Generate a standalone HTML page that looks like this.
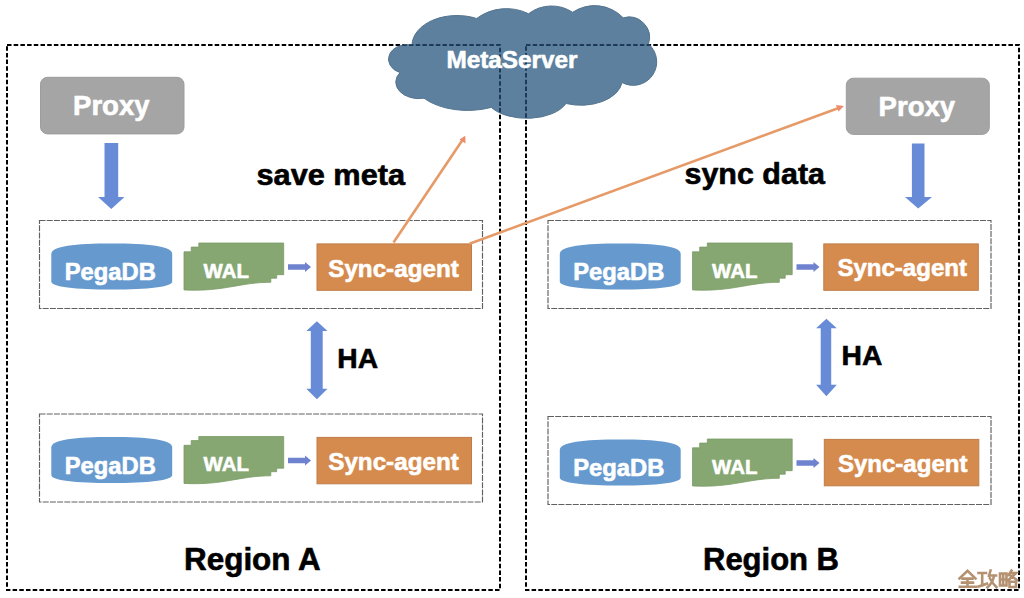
<!DOCTYPE html>
<html><head><meta charset="utf-8">
<style>
html,body{margin:0;padding:0;background:#fff;}
body{width:1024px;height:598px;overflow:hidden;}
svg{display:block;}
text{font-family:"Liberation Sans",sans-serif;font-weight:bold;stroke-width:0.6;stroke-linejoin:round;}
text[fill="#fff"]{stroke:#fff;}
text[fill="#000"]{stroke:#000;}
</style></head>
<body>
<svg width="1024" height="598" viewBox="0 0 1024 598">
<defs>
  <g id="row">
    <rect x="0.5" y="0.5" width="443" height="88" fill="none" stroke="#606060" stroke-width="1.15" stroke-dasharray="6 1.2"/>
    <!-- PegaDB can -->
    <path d="M12.3,34 C12.3,26 36,23.5 72.75,23.5 C109.5,23.5 133.2,26 133.2,34 L133.2,61.5 C133.2,67 109.5,69.6 72.75,69.6 C36,69.6 12.3,67 12.3,61.5 Z" fill="#669acf"/>
    <text x="71.3" y="60" font-size="23.3" fill="#fff" text-anchor="middle" textLength="91" lengthAdjust="spacingAndGlyphs">PegaDB</text>
    <!-- WAL multidoc -->
    <path d="M145,31.8 L152.2,31.8 L152.2,27.1 L159.8,27.1 L159.8,23 L244.7,23 L244.7,54.7 L237.7,54.7 L237.7,58.2 L231.8,58.2 L231.8,62.3 C200,62.3 185,72 145,69.9 Z" fill="#86a772" stroke="#7a9a64" stroke-width="0.8"/>
    <text x="187.2" y="57.6" font-size="20.2" fill="#fff" text-anchor="middle" textLength="45.3" lengthAdjust="spacingAndGlyphs">WAL</text>
    <!-- small arrow -->
    <path d="M249,44.3 L266,44.3 L266,42 L272,47 L266,52 L266,49.7 L249,49.7 Z" fill="#6f82d0"/>
  </g>
  <path id="cloudshape" d="M412,45.0 A45.0,30.0 0 0 1 476.6,18.5 A50.3,50.3 0 0 1 528.5,13.7 A38.3,38.3 0 0 1 572.6,12.3 A39.6,39.6 0 0 1 623.2,17.8 A20.6,20.6 0 0 1 648.5,44 A23.5,23.5 0 0 1 622,82.5 A41.4,25.9 0 0 1 566,103.5 A42.0,23.3 0 0 1 491.3,107.4 A54.2,30.1 0 0 1 424,98.2 A23.1,16.5 0 0 1 400,72.6 A19.0,14.6 0 0 1 412,45.0Z"/>
  <g id="sync">
    <rect x="278" y="23.9" width="154.5" height="46.4" fill="#d68b4e" stroke="#c07c48" stroke-width="1"/>
    <text x="354.5" y="56.9" font-size="24.3" fill="#fff" text-anchor="middle" textLength="130.5" lengthAdjust="spacingAndGlyphs">Sync-agent</text>
  </g>
  <g id="syncB">
    <rect x="278" y="23.9" width="154.5" height="46.4" fill="#d68b4e" stroke="#c07c48" stroke-width="1"/>
    <text x="356.4" y="56.4" font-size="24.3" fill="#fff" text-anchor="middle" textLength="129.5" lengthAdjust="spacingAndGlyphs">Sync-agent</text>
  </g>
  <clipPath id="cloudclip"><path d="M412,45.0 A45.0,30.0 0 0 1 476.6,18.5 A50.3,50.3 0 0 1 528.5,13.7 A38.3,38.3 0 0 1 572.6,12.3 A39.6,39.6 0 0 1 623.2,17.8 A20.6,20.6 0 0 1 648.5,44 A23.5,23.5 0 0 1 622,82.5 A41.4,25.9 0 0 1 566,103.5 A42.0,23.3 0 0 1 491.3,107.4 A54.2,30.1 0 0 1 424,98.2 A23.1,16.5 0 0 1 400,72.6 A19.0,14.6 0 0 1 412,45.0Z"/></clipPath>
</defs>

<!-- outer dashed boxes -->
<g fill="none" stroke="#000" stroke-width="2" stroke-dasharray="4.5 2.2">
  <rect x="7" y="45" width="493" height="545"/>
  <rect x="526" y="45" width="493" height="545"/>
</g>

<!-- cloud -->
<use href="#cloudshape" fill="#5c809d" stroke="#54748f" stroke-width="1"/>
<g clip-path="url(#cloudclip)" fill="none" stroke="#1e3a5a" stroke-width="2" stroke-dasharray="4.5 2.2">
  <rect x="7" y="45" width="493" height="545"/>
  <rect x="526" y="45" width="493" height="545"/>
</g>
<text x="512" y="67.5" font-size="24" fill="#fff" text-anchor="middle" textLength="131.2" lengthAdjust="spacingAndGlyphs">MetaServer</text>

<!-- Proxies -->
<rect x="40.5" y="77.3" width="143.5" height="56.6" rx="7" fill="#a5a5a5" stroke="#9d9d9d" stroke-width="1"/>
<text x="111.3" y="115.4" font-size="28" fill="#fff" text-anchor="middle" textLength="76.6" lengthAdjust="spacingAndGlyphs">Proxy</text>
<rect x="846.3" y="78.2" width="143" height="56.2" rx="7" fill="#a5a5a5" stroke="#9d9d9d" stroke-width="1"/>
<text x="916.9" y="115.8" font-size="28" fill="#fff" text-anchor="middle" textLength="76.6" lengthAdjust="spacingAndGlyphs">Proxy</text>

<!-- down arrows -->
<path d="M104.5,143 L118.2,143 L118.2,197 L124.5,197 L111.3,209 L98.1,197 L104.5,197 Z" fill="#678bd6"/>
<path d="M911.9,143.5 L924.5,143.5 L924.5,197 L932,197 L918.2,208.5 L905,197 L911.9,197 Z" fill="#678bd6"/>

<!-- labels -->
<text x="256.5" y="185.2" font-size="29" fill="#000" textLength="148.6" lengthAdjust="spacingAndGlyphs">save meta</text>
<text x="684.5" y="184" font-size="29" fill="#000" textLength="140.5" lengthAdjust="spacingAndGlyphs">sync data</text>

<!-- rows -->
<use href="#row" x="39" y="220"/>
<use href="#row" x="39" y="413.5"/>
<use href="#row" x="547.5" y="220"/>
<use href="#row" x="547.5" y="416"/>
<use href="#sync" x="39" y="220"/>
<use href="#sync" x="39" y="413.5"/>
<use href="#syncB" x="545.8" y="220"/>
<use href="#syncB" x="546.3" y="415.5"/>

<!-- HA arrows -->
<path d="M316.9,321.3 L327.5,331 L322.7,331 L322.7,388.7 L327.5,388.7 L316.9,399.2 L306.3,388.7 L310.8,388.7 L310.8,331 L306.3,331 Z" fill="#678bd6"/>
<text x="337.3" y="368" font-size="27" fill="#000" textLength="40.8" lengthAdjust="spacingAndGlyphs">HA</text>
<path d="M826.4,318.7 L836.8,328.3 L831.2,328.3 L831.2,384.8 L836.8,384.8 L826.4,396.2 L816.1,384.8 L820.7,384.8 L820.7,328.3 L816.1,328.3 Z" fill="#678bd6"/>
<text x="841.5" y="364.6" font-size="27" fill="#000" textLength="40.8" lengthAdjust="spacingAndGlyphs">HA</text>

<!-- orange lines -->
<g stroke="#e69a68" stroke-width="2.6" fill="none">
  <line x1="393.5" y1="242.5" x2="463.5" y2="138.5"/>
  <line x1="469.5" y1="243.7" x2="840" y2="107.5"/>
</g>
<path d="M465.3,135.8 L459.5,139.5 L465.5,143.5 Z" fill="#ec8c6c"/>
<path d="M844,106 L836,105 L838.5,111.5 Z" fill="#ec8c6c"/>

<!-- region labels -->
<text x="184" y="570.3" font-size="31" fill="#000" textLength="136.8" lengthAdjust="spacingAndGlyphs">Region A</text>
<text x="703" y="569.7" font-size="31" fill="#000" textLength="136" lengthAdjust="spacingAndGlyphs">Region B</text>

<!-- watermark -->
<g fill="none" stroke="#b49271" stroke-width="2.6" stroke-linecap="square">
  <!-- 全 -->
  <path d="M959.5,578.5 L967.5,570.8 L975.5,578.5"/>
  <path d="M962.5,578.6 H972.5 M962,582.6 H973 M959.8,586.8 H975.8 M967.5,578.6 V586.8"/>
  <!-- 攻 -->
  <path d="M978.5,573 H986 M982.2,573 V585.5 M978.5,586.5 L987,583.6"/>
  <path d="M990.5,570.5 L989,576 M989,575.5 H996 M994.2,575.5 Q992.5,583 987.5,587.3 M990,578.5 Q993,584 996.5,587.2"/>
  <!-- 略 -->
  <path d="M1000,573.5 H1006.5 V585.5 H1000 Z M1003.2,573.5 V585.5 M1000,579.5 H1006.5"/>
  <path d="M1011.5,570.5 L1008.5,575 M1010,573 H1016 L1008,580.5 M1010.5,575.5 L1017,580 M1009.5,581.8 H1016 V587 H1009.5 Z"/>
</g>
</svg>
</body></html>
